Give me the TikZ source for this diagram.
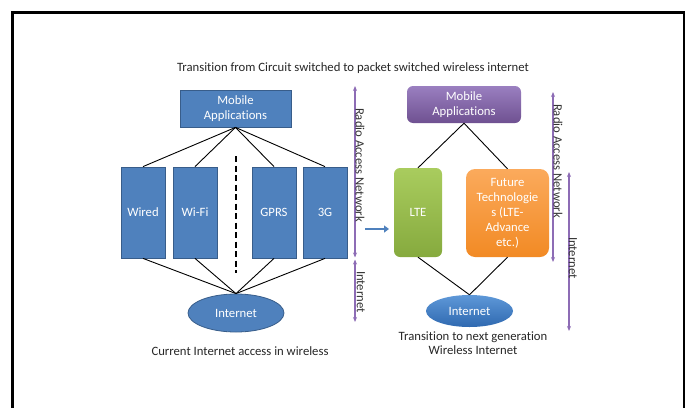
\documentclass[tikz,border=0pt]{standalone}
\usepackage{fontspec}
\setmainfont{Carlito}[Ligatures=NoCommon]
\usetikzlibrary{arrows.meta,shapes.geometric}
\definecolor{bfill}{HTML}{4F81BD}
\definecolor{bdraw}{HTML}{385D8A}
\definecolor{purp}{HTML}{8064A2}
\definecolor{purpA}{HTML}{9A7FC0}
\definecolor{purpB}{HTML}{6F5191}
\definecolor{grnA}{HTML}{A9CC5E}
\definecolor{grnB}{HTML}{86AA3E}
\definecolor{orgA}{HTML}{FBAA5C}
\definecolor{orgB}{HTML}{F28A24}
\definecolor{bluA}{HTML}{5E98D8}
\definecolor{bluB}{HTML}{2F69B0}
\definecolor{arr}{HTML}{8D6CB5}
\begin{document}
\begin{tikzpicture}[x=1pt,y=-1pt,
  every node/.style={font=\fontsize{12.7}{14.5}\selectfont, inner sep=0pt, align=center},
  flatbox/.style={draw=bdraw, fill=bfill, line width=0.8pt, text=white},
  roundbox/.style={rounded corners=6pt, draw=none, text=white},
  link/.style={draw=black, line width=0.9pt},
  span/.style={draw=arr, line width=1.1pt, {Stealth[length=5pt,width=4pt]}-{Stealth[length=5pt,width=4pt]}},
  vlabel/.style={rotate=-90, text=black!80},
  caption/.style={text=black!85}]
\useasboundingbox (0,0) rectangle (690,407);
\draw[line width=2.2pt] (12.5,420) -- (12.5,12.5) -- (684,12.5) -- (684,420);

\node[caption] (title) at (353,68) {Transition from Circuit switched to packet switched wireless internet};

% left side
\node[flatbox, minimum width=111pt, minimum height=37pt] (apps1) at (235.5,108.5) {Mobile\\Applications};
\node[flatbox, minimum width=44pt, minimum height=91pt] (wired) at (143,212.5) {Wired};
\node[flatbox, minimum width=44pt, minimum height=91pt] (wifi) at (195,212.5) {Wi-Fi};
\node[flatbox, minimum width=44pt, minimum height=91pt] (gprs) at (274,212.5) {GPRS};
\node[flatbox, minimum width=44pt, minimum height=91pt] (g3) at (325,212.5) {3G};
\node[ellipse, draw=bdraw, fill=bfill, line width=0.8pt, text=white, minimum width=96pt, minimum height=38pt] (inet1) at (236,313) {Internet};
\coordinate (d1) at (236,156);
\coordinate (d2) at (236,273);
\draw[line width=1.6pt, dash pattern=on 6pt off 3.5pt] (d1) -- (d2);
\foreach \n in {wired,wifi,gprs,g3}{
  \draw[link] (apps1.south) -- (\n.north);
  \draw[link] (\n.south) -- (inet1.north);
}
\node[caption] (cap1) at (240,351) {Current Internet access in wireless};

% middle spans
\coordinate (ra1) at (355,86);
\coordinate (ra2) at (355,257.5);
\coordinate (ri1) at (355,259.5);
\coordinate (ri2) at (355,322);
\draw[span] (ra1) -- (ra2);
\draw[span] (ri1) -- (ri2);
\node[vlabel] (lra) at (360,165) {Radio Access Network};
\node[vlabel] (lri) at (361,292) {Internet};

\coordinate (m1) at (365,229);
\coordinate (m2) at (389,229);
\draw[bfill, line width=2.4pt, -{Triangle[length=5pt,width=7pt]}] (m1) -- (m2);

% right side
\node[roundbox, top color=purpA, bottom color=purpB, minimum width=114pt, minimum height=37pt] (apps2) at (464,104.5) {Mobile\\Applications};
\node[roundbox, top color=grnA, bottom color=grnB, minimum width=48pt, minimum height=89pt] (lte) at (418,212.5) {LTE};
\node[roundbox, top color=orgA, bottom color=orgB, minimum width=83pt, minimum height=88pt, rounded corners=9pt, font=\fontsize{12.7}{15}\selectfont] (fut) at (507.5,213) {Future\\Technologie\\s (LTE-\\Advance\\etc.)};
\node[ellipse, top color=bluA, bottom color=bluB, text=white, minimum width=87pt, minimum height=32pt] (inet2) at (469.5,311) {Internet};
\draw[link] (apps2.south) -- (lte.north);
\draw[link] (apps2.south) -- (fut.north);
\draw[link] (lte.south) -- (inet2.north);
\draw[link] (fut.south) -- (inet2.north);
\node[caption, font=\fontsize{12.7}{13.5}\selectfont] (cap2) at (473,343) {Transition to next generation\\Wireless Internet};

\coordinate (rb1) at (553,92);
\coordinate (rb2) at (553,262);
\coordinate (rc1) at (569,172);
\coordinate (rc2) at (569,331);
\draw[span] (rb1) -- (rb2);
\draw[span] (rc1) -- (rc2);
\node[vlabel] (lrb) at (558,161) {Radio Access Network};
\node[vlabel] (lrc) at (573,258) {Internet};
\end{tikzpicture}
\end{document}
